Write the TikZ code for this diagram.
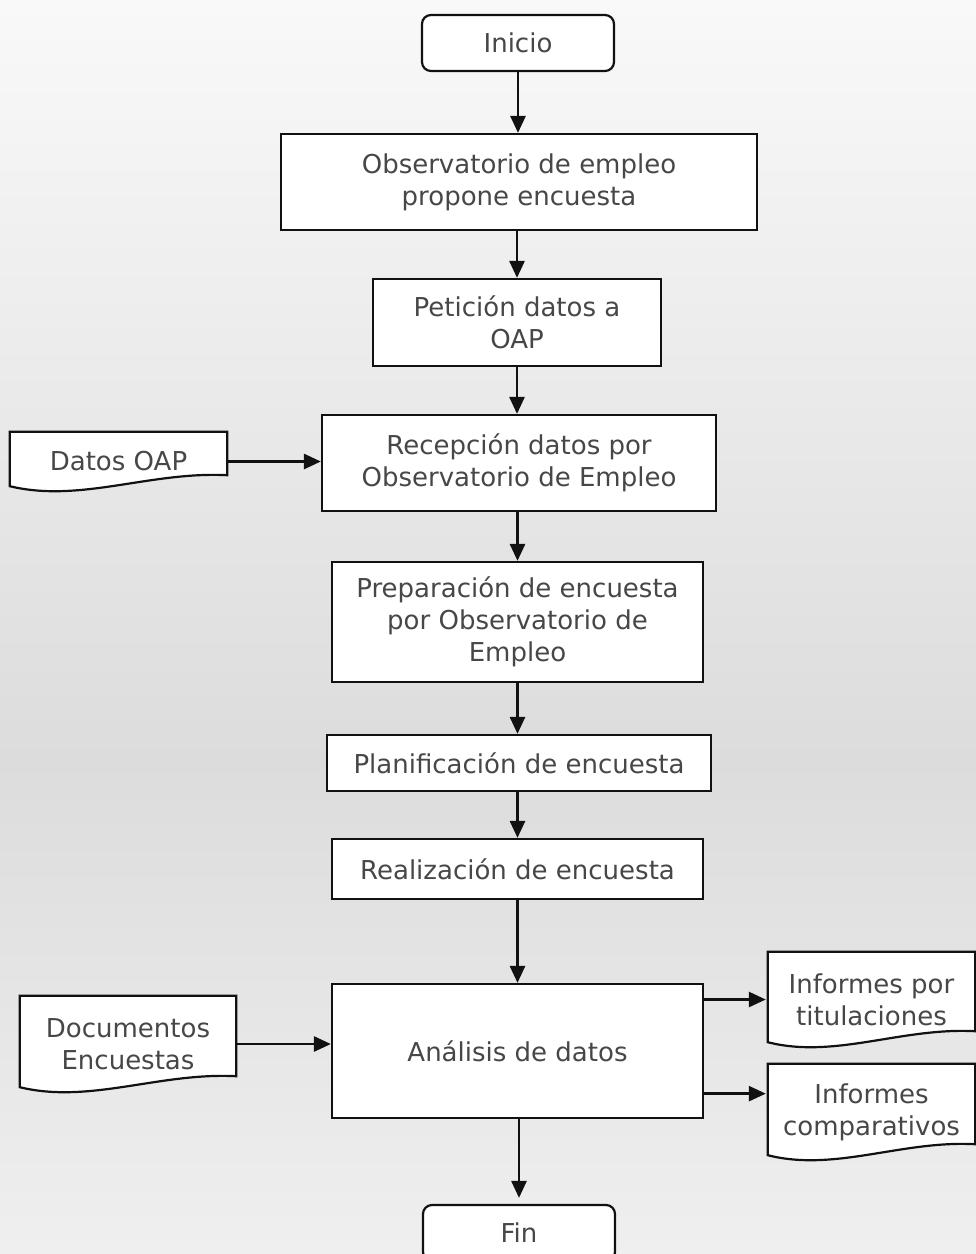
\documentclass[tikz,border=0pt]{standalone}
\usepackage{fontspec}
\setmainfont{DejaVu Sans}
\usetikzlibrary{arrows.meta,calc}
\definecolor{txt}{HTML}{474747}
\definecolor{bgtop}{HTML}{F9F9F9}
\definecolor{bgmid}{HTML}{DCDCDC}
\definecolor{bgbot}{HTML}{EFEFEF}
\definecolor{ln}{HTML}{111111}
\pgfdeclarelayer{bgl}
\pgfdeclarelayer{docl}
\pgfsetlayers{bgl,docl,main}
\newcommand\docoutline[1]{%
  \path[docline] (#1.north west) -- (#1.north east) -- ([yshift=16pt]#1.south east)
   .. controls ($(#1.south east)!0.355!(#1.south west)+(0,20pt)$) and ($(#1.south east)!0.677!(#1.south west)+(0,-12pt)$) .. ([yshift=5pt]#1.south west) -- cycle;}
\begin{document}
\begin{tikzpicture}[x=1pt,y=-1pt,
  lbl/.style={text=txt,align=center,inner sep=0pt,font=\fontsize{26}{32}\selectfont},
  box/.style={lbl,draw=ln,line width=2.2pt,fill=white},
  term/.style={box,rounded corners=9pt},
  docbox/.style={lbl},
  docline/.style={draw=ln,line width=2.2pt,fill=white},
  arr/.style={draw=ln,line width=2.7pt,-{Triangle[length=17pt,width=15pt]}}]
\useasboundingbox (0,0) rectangle (976,1254);
\begin{pgfonlayer}{bgl}
\fill[top color=bgtop,bottom color=bgmid] (0,0) rectangle (976,761);
\fill[top color=bgmid,bottom color=bgbot] (0,760) rectangle (976,1254);
\end{pgfonlayer}

\node[term,minimum width=192pt,minimum height=56pt] (ini) at (518,43) {Inicio};
\node[box,minimum width=476pt,minimum height=96pt] (obs) at (519,182) {Observatorio de empleo\\propone encuesta};
\node[box,minimum width=288pt,minimum height=87pt] (pet) at (517,322.5) {Petición datos a\\OAP};
\node[box,minimum width=394pt,minimum height=96pt] (rec) at (519,463) {Recepción datos por\\Observatorio de Empleo};
\node[docbox,minimum width=217pt,minimum height=59pt] (datos) at (118.5,461.5) {Datos OAP};
\node[box,minimum width=371pt,minimum height=120pt] (prep) at (517.5,622) {Preparación de encuesta\\por Observatorio de\\Empleo};
\node[box,minimum width=384pt,minimum height=56pt] (plan) at (519,763) {Planificación de encuesta};
\node[box,minimum width=371pt,minimum height=60pt] (real) at (517.5,869) {Realización de encuesta};
\node[box,minimum width=371pt,minimum height=134pt] (ana) at (517.5,1051) {Análisis de datos};
\node[docbox,minimum width=216pt,minimum height=96pt] (doc) at (128,1044) {Documentos\\Encuestas};
\node[docbox,minimum width=207pt,minimum height=95pt] (tit) at (871.5,999.5) {Informes por\\titulaciones};
\node[docbox,minimum width=207pt,minimum height=96pt] (comp) at (871.5,1112) {Informes\\comparativos};
\node[term,minimum width=192pt,minimum height=56pt] (fin) at (519,1233) {Fin};

\begin{pgfonlayer}{docl}
\docoutline{datos}
\docoutline{doc}
\docoutline{tit}
\docoutline{comp}
\end{pgfonlayer}

\draw[arr] (ini.south) -- (ini.south |- obs.north);
\draw[arr] (obs.south -| pet.north) -- (pet.north);
\draw[arr] (pet.south) -- (pet.south |- rec.north);
\draw[arr] (datos.east) -- (datos.east -| rec.west);
\draw[arr] (rec.south -| prep.north) -- (prep.north);
\draw[arr] (prep.south) -- (prep.south |- plan.north);
\draw[arr] (plan.south -| real.north) -- (real.north);
\draw[arr] (real.south) -- (ana.north);
\draw[arr] (doc.east) -- (doc.east -| ana.west);
\draw[arr,shorten >=2pt] (tit.west -| ana.east) -- (tit.west);
\coordinate (c2) at ($(ana.south east)!0.187!(ana.north east)$);
\draw[arr,shorten >=2pt] (c2) -- (c2 -| comp.west);
\draw[arr,shorten >=6pt] (ana.south -| fin.north) -- (fin.north);
\end{tikzpicture}
\end{document}
